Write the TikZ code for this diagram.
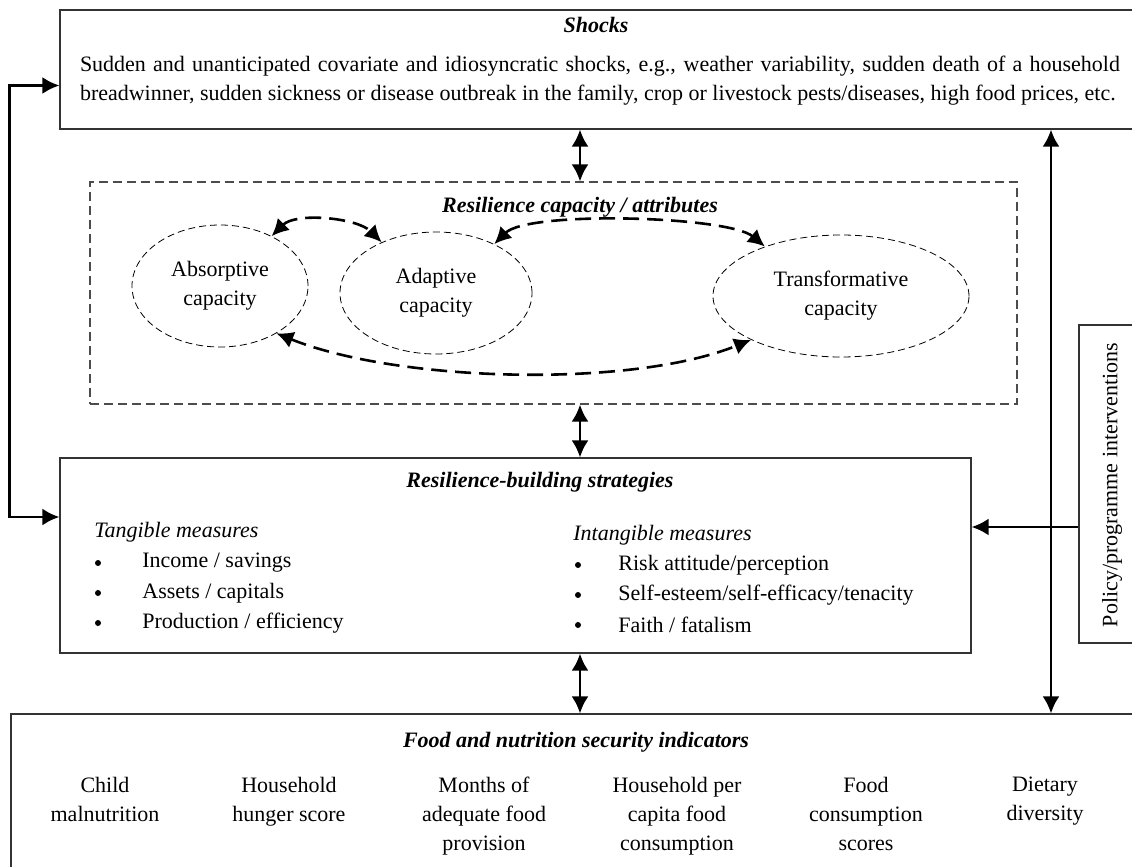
\documentclass[tikz,border=0pt]{standalone}
\usepackage{fontspec}
\setmainfont{Liberation Serif}
\usetikzlibrary{positioning,shapes.geometric,arrows.meta}

\begin{document}
\begin{tikzpicture}
        [ x = .5pt, y = .5pt
        , font = \fontsize{11}{14.5}\selectfont
        , >={Latex[length=8.5pt,width=8.5pt]}
        , box/.style =
          { draw=black!80, line width=.6pt, inner sep=0pt }
        , dashbox/.style =
          { draw=black!70, line width=.6pt, dash pattern=on 4.5pt off 2.5pt, inner sep=0pt }
        , capacity/.style =
          { ellipse, draw, line width=.4pt, dash pattern=on 3.5pt off 2pt, inner sep=0pt, align=center }
        , heading/.style =
          { font=\fontsize{11}{14.5}\selectfont\bfseries\itshape }
        , subhead/.style =
          { font=\fontsize{11}{14.5}\selectfont\itshape, anchor=west, inner sep=0pt }
        , entry/.style =
          { anchor=west, inner sep=0pt }
        , dot/.style =
          { circle, fill, inner sep=0pt, minimum size=3pt }
        , indicator/.style =
          { align=center, anchor=north, inner sep=0pt }
        , link/.style =
          { line width=1.3pt }
        , loopline/.style =
          { line width=1.3pt, dash pattern=on 8pt off 4pt, <-> }
        ]
        \useasboundingbox (0,0) rectangle (1132,-867);
        \clip (0,0) rectangle (1132,-867);

        % shocks
        \node [box, minimum width=540pt, minimum height=59.5pt] (shocks) at (600,-69.5) {};
        \node [heading] (shockstitle) at (596,-25) {Shocks};
        \node [text width=520pt, align=justify, inner sep=0pt] (shockstext) at (600,-81)
          {Sudden and unanticipated covariate and idiosyncratic shocks, e.g., weather variability, sudden death of a household\linebreak
           breadwinner, sudden sickness or disease outbreak in the family, crop or livestock pests/diseases, high food prices, etc.};

        % resilience capacity
        \node [dashbox, minimum width=463.5pt, minimum height=111pt] (capbox) at (553.5,-293) {};
        \node [heading] (captitle) at (580,-207) {Resilience capacity / attributes};
        \node [capacity, minimum width=88pt, minimum height=61pt] (absorb) at (220,-286) {Absorptive\\capacity};
        \node [capacity, minimum width=96pt, minimum height=61pt] (adapt) at (436,-293) {Adaptive\\capacity};
        \node [capacity, minimum width=128pt, minimum height=61pt] (transform) at (841,-296) {Transformative\\capacity};

        \draw [loopline] (absorb.44) to [out=45, in=135, looseness=.8] (adapt.137);
        \draw [loopline] (adapt.40) to [out=45, in=140, looseness=.45] (transform.147);
        \draw [loopline] (absorb.-40) to [out=-22, in=-158, looseness=.7] (transform.-154);

        % strategies
        \node [box, minimum width=455.5pt, minimum height=97.5pt] (strat) at (515.5,-555.5) {};
        \node [heading] (strattitle) at (540,-482) {Resilience-building strategies};
        \node [subhead] (tangible) at (94,-532) {Tangible measures};
        \node [subhead] (intangible) at (573,-535) {Intangible measures};
        \foreach \txt [count=\i] in {Income / savings, Assets / capitals, Production / efficiency}
          {
            \node [dot] (tbul\i) at (98,{-563-30*(\i-1)}) {};
            \node [entry] (titem\i) at (142,{-563-30*(\i-1)}) {\txt};
          }
        \foreach \txt [count=\i] in {Risk attitude/perception, Self-esteem/self-efficacy/tenacity, Faith / fatalism}
          {
            \node [dot] (ibul\i) at (578,{-565-30*(\i-1)}) {};
            \node [entry] (iitem\i) at (618,{-565-30*(\i-1)}) {\txt};
          }

        % policy
        \node [box, minimum width=30.5pt, minimum height=159pt] (policy) at (1109.5,-484) {};
        \node [rotate=90] (policytext) at (1112,-485) {Policy/programme interventions};

        % food and nutrition security
        \node [box, minimum width=564.5pt, minimum height=83pt] (food) at (575.5,-797) {};
        \node [heading] (foodtitle) at (576,-742) {Food and nutrition security indicators};
        \node [indicator] (child) at (105,-777) {Child\\malnutrition};
        \node [indicator] (hunger) at (289,-777) {Household\\hunger score};
        \node [indicator] (months) at (484,-777) {Months of\\adequate food\\provision};
        \node [indicator] (percapita) at (677,-777) {Household per\\capita food\\consumption};
        \node [indicator] (fcs) at (866,-777) {Food\\consumption\\scores};
        \node [indicator] (dietary) at (1045,-777) {Dietary\\diversity};

        % connectors
        \coordinate (rail) at (1051,0);
        \coordinate (policyin) at ([yshift=-21.5pt]policy.west);
        \draw [link,<->] ([yshift=-8pt]shocks.west) -- ++(-50,0) |- ([yshift=19.25pt]strat.west);
        \draw [link,<->] (shocks.south -| captitle) -- (capbox.north -| captitle);
        \draw [link,<->] (capbox.south -| captitle) -- (strat.north -| captitle);
        \draw [link,<->] (strat.south -| captitle) -- (food.north -| captitle);
        \draw [link,<->] (shocks.south -| rail) -- (food.north -| rail);
        \draw [link,->] (policyin) -- (policyin -| strat.east);
\end{tikzpicture}
\end{document}
